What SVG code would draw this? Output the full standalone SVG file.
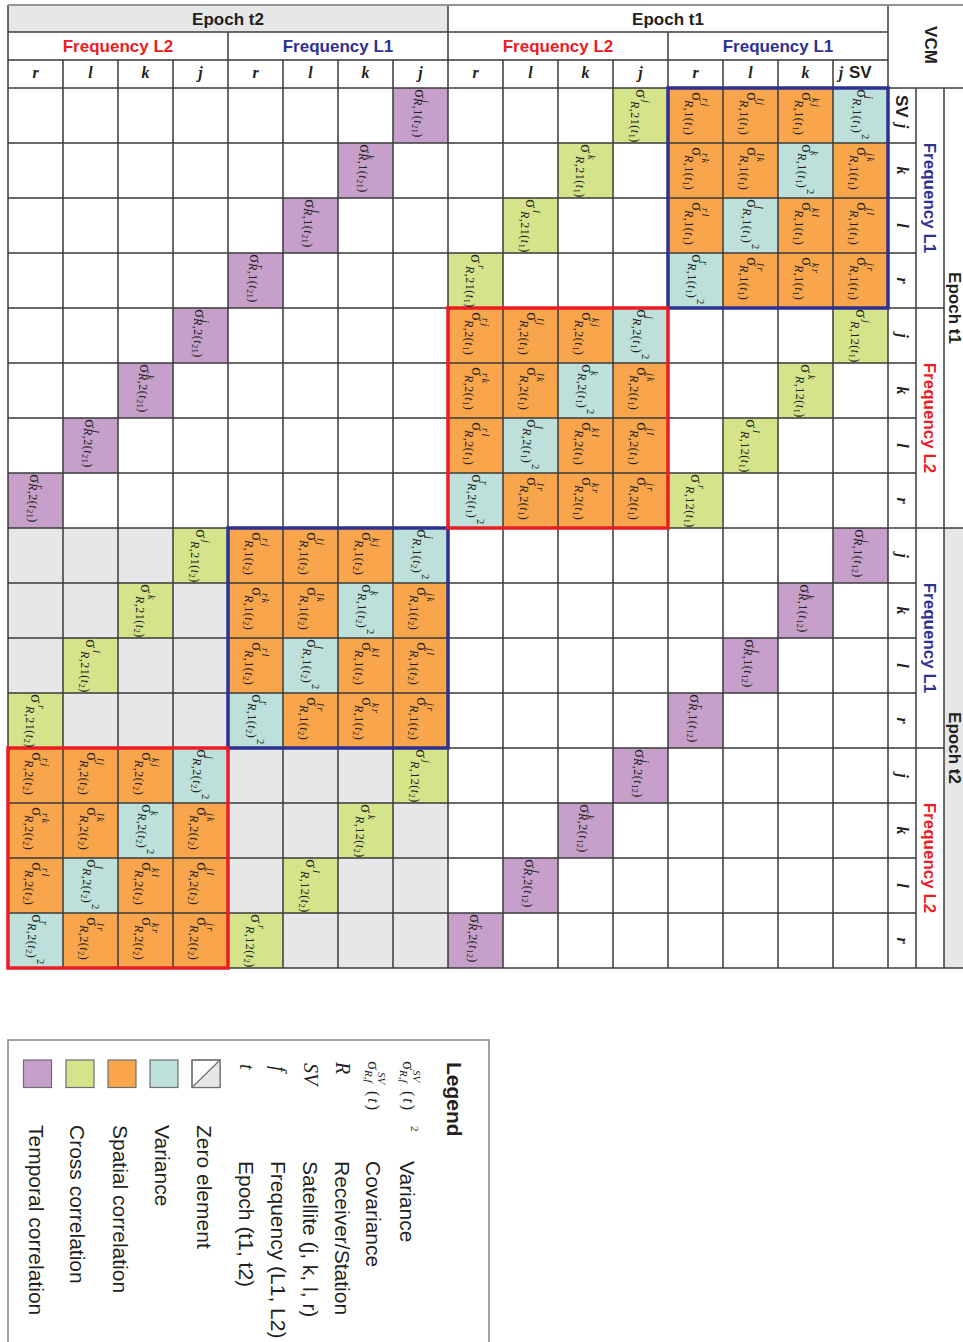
<svg xmlns="http://www.w3.org/2000/svg" width="963" height="1342" viewBox="0 0 963 1342">
<style>
.h{font-family:"Liberation Sans",Arial,sans-serif;font-weight:bold;font-size:17px;fill:#231f20}
.red{fill:#ed1c24}.blu{fill:#2e3192}
.lt{font-family:"Liberation Serif",serif;font-weight:bold;font-style:italic;font-size:16px;fill:#231f20;text-anchor:middle}
.m text{font-family:"Liberation Serif","DejaVu Serif",serif;fill:#231f20}
.sg{font-size:17px}
.sp{font-size:10.5px;font-style:italic;letter-spacing:1.3px}
.l2{font-size:12px;letter-spacing:0.5px}
.i{font-style:italic}
.s{font-size:8px}
.q{font-size:10.5px}
.or{fill:#f9a54b}.cy{fill:#bde0da}.gr{fill:#d5e48a}.pu{fill:#c6a0ca}.gy{fill:#e6e7e8}
.lg{font-family:"Liberation Sans",Arial,sans-serif;font-size:21px;fill:#231f20}
.grid{fill:none;stroke:#3a3a3a;stroke-width:1.5}
.sw{stroke:#6d6e71;stroke-width:1.2}
</style>
<rect width="963" height="1342" fill="#fff"/>
<g id="fills">
<rect class="gy" x="8" y="5" width="440" height="27"/>
<rect class="gy" x="944" y="528" width="19" height="440"/>
<rect class="gy" x="8" y="528" width="440" height="440"/>
<rect class="or" x="668" y="88" width="220" height="220"/>
<rect class="or" x="448" y="308" width="220" height="220"/>
<rect class="or" x="228" y="528" width="220" height="220"/>
<rect class="or" x="8" y="748" width="220" height="220"/>
<g class="cy">
<rect x="833" y="88" width="55" height="55"/><rect x="778" y="143" width="55" height="55"/><rect x="723" y="198" width="55" height="55"/><rect x="668" y="253" width="55" height="55"/>
<rect x="613" y="308" width="55" height="55"/><rect x="558" y="363" width="55" height="55"/><rect x="503" y="418" width="55" height="55"/><rect x="448" y="473" width="55" height="55"/>
<rect x="393" y="528" width="55" height="55"/><rect x="338" y="583" width="55" height="55"/><rect x="283" y="638" width="55" height="55"/><rect x="228" y="693" width="55" height="55"/>
<rect x="173" y="748" width="55" height="55"/><rect x="118" y="803" width="55" height="55"/><rect x="63" y="858" width="55" height="55"/><rect x="8" y="913" width="55" height="55"/>
</g>
<g class="gr">
<rect x="613" y="88" width="55" height="55"/><rect x="558" y="143" width="55" height="55"/><rect x="503" y="198" width="55" height="55"/><rect x="448" y="253" width="55" height="55"/>
<rect x="833" y="308" width="55" height="55"/><rect x="778" y="363" width="55" height="55"/><rect x="723" y="418" width="55" height="55"/><rect x="668" y="473" width="55" height="55"/>
<rect x="173" y="528" width="55" height="55"/><rect x="118" y="583" width="55" height="55"/><rect x="63" y="638" width="55" height="55"/><rect x="8" y="693" width="55" height="55"/>
<rect x="393" y="748" width="55" height="55"/><rect x="338" y="803" width="55" height="55"/><rect x="283" y="858" width="55" height="55"/><rect x="228" y="913" width="55" height="55"/>
</g>
<g class="pu">
<rect x="393" y="88" width="55" height="55"/><rect x="338" y="143" width="55" height="55"/><rect x="283" y="198" width="55" height="55"/><rect x="228" y="253" width="55" height="55"/>
<rect x="173" y="308" width="55" height="55"/><rect x="118" y="363" width="55" height="55"/><rect x="63" y="418" width="55" height="55"/><rect x="8" y="473" width="55" height="55"/>
<rect x="833" y="528" width="55" height="55"/><rect x="778" y="583" width="55" height="55"/><rect x="723" y="638" width="55" height="55"/><rect x="668" y="693" width="55" height="55"/>
<rect x="613" y="748" width="55" height="55"/><rect x="558" y="803" width="55" height="55"/><rect x="503" y="858" width="55" height="55"/><rect x="448" y="913" width="55" height="55"/>
</g>
</g>
<g id="grid">
<path class="grid" d="M8 88H963M8 143H916M8 198H916M8 253H916M8 308H944M8 363H916M8 418H916M8 473H916M8 528H963M8 583H916M8 638H916M8 693H916M8 748H944M8 803H916M8 858H916M8 913H916M8 968H963M8 32H888M8 60H888M8 5V968M63 60V968M118 60V968M173 60V968M228 32V968M283 60V968M338 60V968M393 60V968M448 5V968M503 60V968M558 60V968M613 60V968M668 32V968M723 60V968M778 60V968M833 60V968M888 5V968M916 88V968M944 88V968"/>
<path d="M8 5H963" stroke="#939598" stroke-width="2" fill="none"/>
</g>
<g id="boxes" fill="none" stroke-width="3.5">
<rect x="668" y="88" width="220" height="220" stroke="#2e3192"/>
<rect x="228" y="528" width="220" height="220" stroke="#2e3192"/>
<rect x="448" y="308" width="220" height="220" stroke="#ed1c24"/>
<rect x="8" y="748" width="220" height="220" stroke="#ed1c24"/>
</g>
<g id="headers">
<text class="h" x="228" y="25" text-anchor="middle">Epoch t2</text>
<text class="h" x="668" y="25" text-anchor="middle">Epoch t1</text>
<text class="h red" x="118" y="52" text-anchor="middle">Frequency L2</text>
<text class="h blu" x="338" y="52" text-anchor="middle">Frequency L1</text>
<text class="h red" x="558" y="52" text-anchor="middle">Frequency L2</text>
<text class="h blu" x="778" y="52" text-anchor="middle">Frequency L1</text>
<g class="lt">
<text x="35.5" y="78">r</text><text x="90.5" y="78">l</text><text x="145.5" y="78">k</text><text x="200.5" y="78">j</text>
<text x="255.5" y="78">r</text><text x="310.5" y="78">l</text><text x="365.5" y="78">k</text><text x="420.5" y="78">j</text>
<text x="475.5" y="78">r</text><text x="530.5" y="78">l</text><text x="585.5" y="78">k</text><text x="640.5" y="78">j</text>
<text x="695.5" y="78">r</text><text x="750.5" y="78">l</text><text x="805.5" y="78">k</text><text x="841" y="78">j</text>
</g>
<text class="h" x="849" y="78" font-size="16">SV</text>
<g class="lt">
<text transform="translate(902,170.5) rotate(90)" y="5">k</text>
<text transform="translate(902,225.5) rotate(90)" y="5">l</text>
<text transform="translate(902,280.5) rotate(90)" y="5">r</text>
<text transform="translate(902,335.5) rotate(90)" y="5">j</text>
<text transform="translate(902,390.5) rotate(90)" y="5">k</text>
<text transform="translate(902,445.5) rotate(90)" y="5">l</text>
<text transform="translate(902,500.5) rotate(90)" y="5">r</text>
<text transform="translate(902,555.5) rotate(90)" y="5">j</text>
<text transform="translate(902,610.5) rotate(90)" y="5">k</text>
<text transform="translate(902,665.5) rotate(90)" y="5">l</text>
<text transform="translate(902,720.5) rotate(90)" y="5">r</text>
<text transform="translate(902,775.5) rotate(90)" y="5">j</text>
<text transform="translate(902,830.5) rotate(90)" y="5">k</text>
<text transform="translate(902,885.5) rotate(90)" y="5">l</text>
<text transform="translate(902,940.5) rotate(90)" y="5">r</text>
<text transform="translate(902,126) rotate(90)" y="5">j</text>
</g>
<text class="h" transform="translate(902,95) rotate(90)" y="6" font-size="16">SV</text>
<text class="h blu" transform="translate(930,198) rotate(90)" y="6" text-anchor="middle">Frequency L1</text>
<text class="h red" transform="translate(930,418) rotate(90)" y="6" text-anchor="middle">Frequency L2</text>
<text class="h blu" transform="translate(930,638) rotate(90)" y="6" text-anchor="middle">Frequency L1</text>
<text class="h red" transform="translate(930,858) rotate(90)" y="6" text-anchor="middle">Frequency L2</text>
<text class="h" transform="translate(955,308) rotate(90)" y="6" text-anchor="middle">Epoch t1</text>
<text class="h" transform="translate(955,748) rotate(90)" y="6" text-anchor="middle">Epoch t2</text>
<text class="h" transform="translate(934,45) rotate(90)" y="9" text-anchor="middle" font-size="25">VCM</text>
</g>
<g id="cells" class="m">
<!-- block t1 L1 -->
<g id="c0-12" transform="translate(695.5,88) rotate(90)"><text class="sg" x="4" y="3.5">σ</text><text class="sp" x="10" y="-6">rj</text><text class="l2" x="12" y="10.5"><tspan class="i">R</tspan>,1(<tspan class="i">t</tspan><tspan class="s" dy="2">1</tspan><tspan dy="-2">)</tspan></text></g>
<g id="c0-13" transform="translate(750.5,88) rotate(90)"><text class="sg" x="4" y="3.5">σ</text><text class="sp" x="10" y="-6">lj</text><text class="l2" x="12" y="10.5"><tspan class="i">R</tspan>,1(<tspan class="i">t</tspan><tspan class="s" dy="2">1</tspan><tspan dy="-2">)</tspan></text></g>
<g id="c0-14" transform="translate(805.5,88) rotate(90)"><text class="sg" x="4" y="3.5">σ</text><text class="sp" x="10" y="-6">kj</text><text class="l2" x="12" y="10.5"><tspan class="i">R</tspan>,1(<tspan class="i">t</tspan><tspan class="s" dy="2">1</tspan><tspan dy="-2">)</tspan></text></g>
<g id="c0-15" transform="translate(860.5,88) rotate(90)"><text class="sg" x="1" y="4">σ</text><text class="sp" x="8" y="-5">j</text><text class="l2" x="10" y="8"><tspan class="i">R</tspan>,1(<tspan class="i">t</tspan><tspan class="s" dy="2">1</tspan><tspan dy="-2">)</tspan></text><text class="q" x="46" y="-1">2</text></g>
<g id="c1-12" transform="translate(695.5,143) rotate(90)"><text class="sg" x="4" y="3.5">σ</text><text class="sp" x="10" y="-6">rk</text><text class="l2" x="12" y="10.5"><tspan class="i">R</tspan>,1(<tspan class="i">t</tspan><tspan class="s" dy="2">1</tspan><tspan dy="-2">)</tspan></text></g>
<g id="c1-13" transform="translate(750.5,143) rotate(90)"><text class="sg" x="4" y="3.5">σ</text><text class="sp" x="10" y="-6">lk</text><text class="l2" x="12" y="10.5"><tspan class="i">R</tspan>,1(<tspan class="i">t</tspan><tspan class="s" dy="2">1</tspan><tspan dy="-2">)</tspan></text></g>
<g id="c1-14" transform="translate(805.5,143) rotate(90)"><text class="sg" x="1" y="4">σ</text><text class="sp" x="8" y="-5">k</text><text class="l2" x="10" y="8"><tspan class="i">R</tspan>,1(<tspan class="i">t</tspan><tspan class="s" dy="2">1</tspan><tspan dy="-2">)</tspan></text><text class="q" x="46" y="-1">2</text></g>
<g id="c1-15" transform="translate(860.5,143) rotate(90)"><text class="sg" x="4" y="3.5">σ</text><text class="sp" x="10" y="-6">jk</text><text class="l2" x="12" y="10.5"><tspan class="i">R</tspan>,1(<tspan class="i">t</tspan><tspan class="s" dy="2">1</tspan><tspan dy="-2">)</tspan></text></g>
<g id="c2-12" transform="translate(695.5,198) rotate(90)"><text class="sg" x="4" y="3.5">σ</text><text class="sp" x="10" y="-6">rl</text><text class="l2" x="12" y="10.5"><tspan class="i">R</tspan>,1(<tspan class="i">t</tspan><tspan class="s" dy="2">1</tspan><tspan dy="-2">)</tspan></text></g>
<g id="c2-13" transform="translate(750.5,198) rotate(90)"><text class="sg" x="1" y="4">σ</text><text class="sp" x="8" y="-5">l</text><text class="l2" x="10" y="8"><tspan class="i">R</tspan>,1(<tspan class="i">t</tspan><tspan class="s" dy="2">1</tspan><tspan dy="-2">)</tspan></text><text class="q" x="46" y="-1">2</text></g>
<g id="c2-14" transform="translate(805.5,198) rotate(90)"><text class="sg" x="4" y="3.5">σ</text><text class="sp" x="10" y="-6">kl</text><text class="l2" x="12" y="10.5"><tspan class="i">R</tspan>,1(<tspan class="i">t</tspan><tspan class="s" dy="2">1</tspan><tspan dy="-2">)</tspan></text></g>
<g id="c2-15" transform="translate(860.5,198) rotate(90)"><text class="sg" x="4" y="3.5">σ</text><text class="sp" x="10" y="-6">jl</text><text class="l2" x="12" y="10.5"><tspan class="i">R</tspan>,1(<tspan class="i">t</tspan><tspan class="s" dy="2">1</tspan><tspan dy="-2">)</tspan></text></g>
<g id="c3-12" transform="translate(695.5,253) rotate(90)"><text class="sg" x="1" y="4">σ</text><text class="sp" x="8" y="-5">r</text><text class="l2" x="10" y="8"><tspan class="i">R</tspan>,1(<tspan class="i">t</tspan><tspan class="s" dy="2">1</tspan><tspan dy="-2">)</tspan></text><text class="q" x="46" y="-1">2</text></g>
<g id="c3-13" transform="translate(750.5,253) rotate(90)"><text class="sg" x="4" y="3.5">σ</text><text class="sp" x="10" y="-6">lr</text><text class="l2" x="12" y="10.5"><tspan class="i">R</tspan>,1(<tspan class="i">t</tspan><tspan class="s" dy="2">1</tspan><tspan dy="-2">)</tspan></text></g>
<g id="c3-14" transform="translate(805.5,253) rotate(90)"><text class="sg" x="4" y="3.5">σ</text><text class="sp" x="10" y="-6">kr</text><text class="l2" x="12" y="10.5"><tspan class="i">R</tspan>,1(<tspan class="i">t</tspan><tspan class="s" dy="2">1</tspan><tspan dy="-2">)</tspan></text></g>
<g id="c3-15" transform="translate(860.5,253) rotate(90)"><text class="sg" x="4" y="3.5">σ</text><text class="sp" x="10" y="-6">jr</text><text class="l2" x="12" y="10.5"><tspan class="i">R</tspan>,1(<tspan class="i">t</tspan><tspan class="s" dy="2">1</tspan><tspan dy="-2">)</tspan></text></g>
<!-- block t1 L2 -->
<g id="c4-8" transform="translate(475.5,308) rotate(90)"><text class="sg" x="4" y="3.5">σ</text><text class="sp" x="10" y="-6">rj</text><text class="l2" x="12" y="10.5"><tspan class="i">R</tspan>,2(<tspan class="i">t</tspan><tspan class="s" dy="2">1</tspan><tspan dy="-2">)</tspan></text></g>
<g id="c4-9" transform="translate(530.5,308) rotate(90)"><text class="sg" x="4" y="3.5">σ</text><text class="sp" x="10" y="-6">lj</text><text class="l2" x="12" y="10.5"><tspan class="i">R</tspan>,2(<tspan class="i">t</tspan><tspan class="s" dy="2">1</tspan><tspan dy="-2">)</tspan></text></g>
<g id="c4-10" transform="translate(585.5,308) rotate(90)"><text class="sg" x="4" y="3.5">σ</text><text class="sp" x="10" y="-6">kj</text><text class="l2" x="12" y="10.5"><tspan class="i">R</tspan>,2(<tspan class="i">t</tspan><tspan class="s" dy="2">1</tspan><tspan dy="-2">)</tspan></text></g>
<g id="c4-11" transform="translate(640.5,308) rotate(90)"><text class="sg" x="1" y="4">σ</text><text class="sp" x="8" y="-5">j</text><text class="l2" x="10" y="8"><tspan class="i">R</tspan>,2(<tspan class="i">t</tspan><tspan class="s" dy="2">1</tspan><tspan dy="-2">)</tspan></text><text class="q" x="46" y="-1">2</text></g>
<g id="c5-8" transform="translate(475.5,363) rotate(90)"><text class="sg" x="4" y="3.5">σ</text><text class="sp" x="10" y="-6">rk</text><text class="l2" x="12" y="10.5"><tspan class="i">R</tspan>,2(<tspan class="i">t</tspan><tspan class="s" dy="2">1</tspan><tspan dy="-2">)</tspan></text></g>
<g id="c5-9" transform="translate(530.5,363) rotate(90)"><text class="sg" x="4" y="3.5">σ</text><text class="sp" x="10" y="-6">lk</text><text class="l2" x="12" y="10.5"><tspan class="i">R</tspan>,2(<tspan class="i">t</tspan><tspan class="s" dy="2">1</tspan><tspan dy="-2">)</tspan></text></g>
<g id="c5-10" transform="translate(585.5,363) rotate(90)"><text class="sg" x="1" y="4">σ</text><text class="sp" x="8" y="-5">k</text><text class="l2" x="10" y="8"><tspan class="i">R</tspan>,2(<tspan class="i">t</tspan><tspan class="s" dy="2">1</tspan><tspan dy="-2">)</tspan></text><text class="q" x="46" y="-1">2</text></g>
<g id="c5-11" transform="translate(640.5,363) rotate(90)"><text class="sg" x="4" y="3.5">σ</text><text class="sp" x="10" y="-6">jk</text><text class="l2" x="12" y="10.5"><tspan class="i">R</tspan>,2(<tspan class="i">t</tspan><tspan class="s" dy="2">1</tspan><tspan dy="-2">)</tspan></text></g>
<g id="c6-8" transform="translate(475.5,418) rotate(90)"><text class="sg" x="4" y="3.5">σ</text><text class="sp" x="10" y="-6">rl</text><text class="l2" x="12" y="10.5"><tspan class="i">R</tspan>,2(<tspan class="i">t</tspan><tspan class="s" dy="2">1</tspan><tspan dy="-2">)</tspan></text></g>
<g id="c6-9" transform="translate(530.5,418) rotate(90)"><text class="sg" x="1" y="4">σ</text><text class="sp" x="8" y="-5">l</text><text class="l2" x="10" y="8"><tspan class="i">R</tspan>,2(<tspan class="i">t</tspan><tspan class="s" dy="2">1</tspan><tspan dy="-2">)</tspan></text><text class="q" x="46" y="-1">2</text></g>
<g id="c6-10" transform="translate(585.5,418) rotate(90)"><text class="sg" x="4" y="3.5">σ</text><text class="sp" x="10" y="-6">kl</text><text class="l2" x="12" y="10.5"><tspan class="i">R</tspan>,2(<tspan class="i">t</tspan><tspan class="s" dy="2">1</tspan><tspan dy="-2">)</tspan></text></g>
<g id="c6-11" transform="translate(640.5,418) rotate(90)"><text class="sg" x="4" y="3.5">σ</text><text class="sp" x="10" y="-6">jl</text><text class="l2" x="12" y="10.5"><tspan class="i">R</tspan>,2(<tspan class="i">t</tspan><tspan class="s" dy="2">1</tspan><tspan dy="-2">)</tspan></text></g>
<g id="c7-8" transform="translate(475.5,473) rotate(90)"><text class="sg" x="1" y="4">σ</text><text class="sp" x="8" y="-5">r</text><text class="l2" x="10" y="8"><tspan class="i">R</tspan>,2(<tspan class="i">t</tspan><tspan class="s" dy="2">1</tspan><tspan dy="-2">)</tspan></text><text class="q" x="46" y="-1">2</text></g>
<g id="c7-9" transform="translate(530.5,473) rotate(90)"><text class="sg" x="4" y="3.5">σ</text><text class="sp" x="10" y="-6">lr</text><text class="l2" x="12" y="10.5"><tspan class="i">R</tspan>,2(<tspan class="i">t</tspan><tspan class="s" dy="2">1</tspan><tspan dy="-2">)</tspan></text></g>
<g id="c7-10" transform="translate(585.5,473) rotate(90)"><text class="sg" x="4" y="3.5">σ</text><text class="sp" x="10" y="-6">kr</text><text class="l2" x="12" y="10.5"><tspan class="i">R</tspan>,2(<tspan class="i">t</tspan><tspan class="s" dy="2">1</tspan><tspan dy="-2">)</tspan></text></g>
<g id="c7-11" transform="translate(640.5,473) rotate(90)"><text class="sg" x="4" y="3.5">σ</text><text class="sp" x="10" y="-6">jr</text><text class="l2" x="12" y="10.5"><tspan class="i">R</tspan>,2(<tspan class="i">t</tspan><tspan class="s" dy="2">1</tspan><tspan dy="-2">)</tspan></text></g>
<!-- block t2 L1 -->
<g id="c8-4" transform="translate(255.5,528) rotate(90)"><text class="sg" x="4" y="3.5">σ</text><text class="sp" x="10" y="-6">rj</text><text class="l2" x="12" y="10.5"><tspan class="i">R</tspan>,1(<tspan class="i">t</tspan><tspan class="s" dy="2">2</tspan><tspan dy="-2">)</tspan></text></g>
<g id="c8-5" transform="translate(310.5,528) rotate(90)"><text class="sg" x="4" y="3.5">σ</text><text class="sp" x="10" y="-6">lj</text><text class="l2" x="12" y="10.5"><tspan class="i">R</tspan>,1(<tspan class="i">t</tspan><tspan class="s" dy="2">2</tspan><tspan dy="-2">)</tspan></text></g>
<g id="c8-6" transform="translate(365.5,528) rotate(90)"><text class="sg" x="4" y="3.5">σ</text><text class="sp" x="10" y="-6">kj</text><text class="l2" x="12" y="10.5"><tspan class="i">R</tspan>,1(<tspan class="i">t</tspan><tspan class="s" dy="2">2</tspan><tspan dy="-2">)</tspan></text></g>
<g id="c8-7" transform="translate(420.5,528) rotate(90)"><text class="sg" x="1" y="4">σ</text><text class="sp" x="8" y="-5">j</text><text class="l2" x="10" y="8"><tspan class="i">R</tspan>,1(<tspan class="i">t</tspan><tspan class="s" dy="2">2</tspan><tspan dy="-2">)</tspan></text><text class="q" x="46" y="-1">2</text></g>
<g id="c9-4" transform="translate(255.5,583) rotate(90)"><text class="sg" x="4" y="3.5">σ</text><text class="sp" x="10" y="-6">rk</text><text class="l2" x="12" y="10.5"><tspan class="i">R</tspan>,1(<tspan class="i">t</tspan><tspan class="s" dy="2">2</tspan><tspan dy="-2">)</tspan></text></g>
<g id="c9-5" transform="translate(310.5,583) rotate(90)"><text class="sg" x="4" y="3.5">σ</text><text class="sp" x="10" y="-6">lk</text><text class="l2" x="12" y="10.5"><tspan class="i">R</tspan>,1(<tspan class="i">t</tspan><tspan class="s" dy="2">2</tspan><tspan dy="-2">)</tspan></text></g>
<g id="c9-6" transform="translate(365.5,583) rotate(90)"><text class="sg" x="1" y="4">σ</text><text class="sp" x="8" y="-5">k</text><text class="l2" x="10" y="8"><tspan class="i">R</tspan>,1(<tspan class="i">t</tspan><tspan class="s" dy="2">2</tspan><tspan dy="-2">)</tspan></text><text class="q" x="46" y="-1">2</text></g>
<g id="c9-7" transform="translate(420.5,583) rotate(90)"><text class="sg" x="4" y="3.5">σ</text><text class="sp" x="10" y="-6">jk</text><text class="l2" x="12" y="10.5"><tspan class="i">R</tspan>,1(<tspan class="i">t</tspan><tspan class="s" dy="2">2</tspan><tspan dy="-2">)</tspan></text></g>
<g id="c10-4" transform="translate(255.5,638) rotate(90)"><text class="sg" x="4" y="3.5">σ</text><text class="sp" x="10" y="-6">rl</text><text class="l2" x="12" y="10.5"><tspan class="i">R</tspan>,1(<tspan class="i">t</tspan><tspan class="s" dy="2">2</tspan><tspan dy="-2">)</tspan></text></g>
<g id="c10-5" transform="translate(310.5,638) rotate(90)"><text class="sg" x="1" y="4">σ</text><text class="sp" x="8" y="-5">l</text><text class="l2" x="10" y="8"><tspan class="i">R</tspan>,1(<tspan class="i">t</tspan><tspan class="s" dy="2">2</tspan><tspan dy="-2">)</tspan></text><text class="q" x="46" y="-1">2</text></g>
<g id="c10-6" transform="translate(365.5,638) rotate(90)"><text class="sg" x="4" y="3.5">σ</text><text class="sp" x="10" y="-6">kl</text><text class="l2" x="12" y="10.5"><tspan class="i">R</tspan>,1(<tspan class="i">t</tspan><tspan class="s" dy="2">2</tspan><tspan dy="-2">)</tspan></text></g>
<g id="c10-7" transform="translate(420.5,638) rotate(90)"><text class="sg" x="4" y="3.5">σ</text><text class="sp" x="10" y="-6">jl</text><text class="l2" x="12" y="10.5"><tspan class="i">R</tspan>,1(<tspan class="i">t</tspan><tspan class="s" dy="2">2</tspan><tspan dy="-2">)</tspan></text></g>
<g id="c11-4" transform="translate(255.5,693) rotate(90)"><text class="sg" x="1" y="4">σ</text><text class="sp" x="8" y="-5">r</text><text class="l2" x="10" y="8"><tspan class="i">R</tspan>,1(<tspan class="i">t</tspan><tspan class="s" dy="2">2</tspan><tspan dy="-2">)</tspan></text><text class="q" x="46" y="-1">2</text></g>
<g id="c11-5" transform="translate(310.5,693) rotate(90)"><text class="sg" x="4" y="3.5">σ</text><text class="sp" x="10" y="-6">lr</text><text class="l2" x="12" y="10.5"><tspan class="i">R</tspan>,1(<tspan class="i">t</tspan><tspan class="s" dy="2">2</tspan><tspan dy="-2">)</tspan></text></g>
<g id="c11-6" transform="translate(365.5,693) rotate(90)"><text class="sg" x="4" y="3.5">σ</text><text class="sp" x="10" y="-6">kr</text><text class="l2" x="12" y="10.5"><tspan class="i">R</tspan>,1(<tspan class="i">t</tspan><tspan class="s" dy="2">2</tspan><tspan dy="-2">)</tspan></text></g>
<g id="c11-7" transform="translate(420.5,693) rotate(90)"><text class="sg" x="4" y="3.5">σ</text><text class="sp" x="10" y="-6">jr</text><text class="l2" x="12" y="10.5"><tspan class="i">R</tspan>,1(<tspan class="i">t</tspan><tspan class="s" dy="2">2</tspan><tspan dy="-2">)</tspan></text></g>
<!-- block t2 L2 -->
<g id="c12-0" transform="translate(35.5,748) rotate(90)"><text class="sg" x="4" y="3.5">σ</text><text class="sp" x="10" y="-6">rj</text><text class="l2" x="12" y="10.5"><tspan class="i">R</tspan>,2(<tspan class="i">t</tspan><tspan class="s" dy="2">2</tspan><tspan dy="-2">)</tspan></text></g>
<g id="c12-1" transform="translate(90.5,748) rotate(90)"><text class="sg" x="4" y="3.5">σ</text><text class="sp" x="10" y="-6">lj</text><text class="l2" x="12" y="10.5"><tspan class="i">R</tspan>,2(<tspan class="i">t</tspan><tspan class="s" dy="2">2</tspan><tspan dy="-2">)</tspan></text></g>
<g id="c12-2" transform="translate(145.5,748) rotate(90)"><text class="sg" x="4" y="3.5">σ</text><text class="sp" x="10" y="-6">kj</text><text class="l2" x="12" y="10.5"><tspan class="i">R</tspan>,2(<tspan class="i">t</tspan><tspan class="s" dy="2">2</tspan><tspan dy="-2">)</tspan></text></g>
<g id="c12-3" transform="translate(200.5,748) rotate(90)"><text class="sg" x="1" y="4">σ</text><text class="sp" x="8" y="-5">j</text><text class="l2" x="10" y="8"><tspan class="i">R</tspan>,2(<tspan class="i">t</tspan><tspan class="s" dy="2">2</tspan><tspan dy="-2">)</tspan></text><text class="q" x="46" y="-1">2</text></g>
<g id="c13-0" transform="translate(35.5,803) rotate(90)"><text class="sg" x="4" y="3.5">σ</text><text class="sp" x="10" y="-6">rk</text><text class="l2" x="12" y="10.5"><tspan class="i">R</tspan>,2(<tspan class="i">t</tspan><tspan class="s" dy="2">2</tspan><tspan dy="-2">)</tspan></text></g>
<g id="c13-1" transform="translate(90.5,803) rotate(90)"><text class="sg" x="4" y="3.5">σ</text><text class="sp" x="10" y="-6">lk</text><text class="l2" x="12" y="10.5"><tspan class="i">R</tspan>,2(<tspan class="i">t</tspan><tspan class="s" dy="2">2</tspan><tspan dy="-2">)</tspan></text></g>
<g id="c13-2" transform="translate(145.5,803) rotate(90)"><text class="sg" x="1" y="4">σ</text><text class="sp" x="8" y="-5">k</text><text class="l2" x="10" y="8"><tspan class="i">R</tspan>,2(<tspan class="i">t</tspan><tspan class="s" dy="2">2</tspan><tspan dy="-2">)</tspan></text><text class="q" x="46" y="-1">2</text></g>
<g id="c13-3" transform="translate(200.5,803) rotate(90)"><text class="sg" x="4" y="3.5">σ</text><text class="sp" x="10" y="-6">jk</text><text class="l2" x="12" y="10.5"><tspan class="i">R</tspan>,2(<tspan class="i">t</tspan><tspan class="s" dy="2">2</tspan><tspan dy="-2">)</tspan></text></g>
<g id="c14-0" transform="translate(35.5,858) rotate(90)"><text class="sg" x="4" y="3.5">σ</text><text class="sp" x="10" y="-6">rl</text><text class="l2" x="12" y="10.5"><tspan class="i">R</tspan>,2(<tspan class="i">t</tspan><tspan class="s" dy="2">2</tspan><tspan dy="-2">)</tspan></text></g>
<g id="c14-1" transform="translate(90.5,858) rotate(90)"><text class="sg" x="1" y="4">σ</text><text class="sp" x="8" y="-5">l</text><text class="l2" x="10" y="8"><tspan class="i">R</tspan>,2(<tspan class="i">t</tspan><tspan class="s" dy="2">2</tspan><tspan dy="-2">)</tspan></text><text class="q" x="46" y="-1">2</text></g>
<g id="c14-2" transform="translate(145.5,858) rotate(90)"><text class="sg" x="4" y="3.5">σ</text><text class="sp" x="10" y="-6">kl</text><text class="l2" x="12" y="10.5"><tspan class="i">R</tspan>,2(<tspan class="i">t</tspan><tspan class="s" dy="2">2</tspan><tspan dy="-2">)</tspan></text></g>
<g id="c14-3" transform="translate(200.5,858) rotate(90)"><text class="sg" x="4" y="3.5">σ</text><text class="sp" x="10" y="-6">jl</text><text class="l2" x="12" y="10.5"><tspan class="i">R</tspan>,2(<tspan class="i">t</tspan><tspan class="s" dy="2">2</tspan><tspan dy="-2">)</tspan></text></g>
<g id="c15-0" transform="translate(35.5,913) rotate(90)"><text class="sg" x="1" y="4">σ</text><text class="sp" x="8" y="-5">r</text><text class="l2" x="10" y="8"><tspan class="i">R</tspan>,2(<tspan class="i">t</tspan><tspan class="s" dy="2">2</tspan><tspan dy="-2">)</tspan></text><text class="q" x="46" y="-1">2</text></g>
<g id="c15-1" transform="translate(90.5,913) rotate(90)"><text class="sg" x="4" y="3.5">σ</text><text class="sp" x="10" y="-6">lr</text><text class="l2" x="12" y="10.5"><tspan class="i">R</tspan>,2(<tspan class="i">t</tspan><tspan class="s" dy="2">2</tspan><tspan dy="-2">)</tspan></text></g>
<g id="c15-2" transform="translate(145.5,913) rotate(90)"><text class="sg" x="4" y="3.5">σ</text><text class="sp" x="10" y="-6">kr</text><text class="l2" x="12" y="10.5"><tspan class="i">R</tspan>,2(<tspan class="i">t</tspan><tspan class="s" dy="2">2</tspan><tspan dy="-2">)</tspan></text></g>
<g id="c15-3" transform="translate(200.5,913) rotate(90)"><text class="sg" x="4" y="3.5">σ</text><text class="sp" x="10" y="-6">jr</text><text class="l2" x="12" y="10.5"><tspan class="i">R</tspan>,2(<tspan class="i">t</tspan><tspan class="s" dy="2">2</tspan><tspan dy="-2">)</tspan></text></g>
<!-- cross correlation -->
<g id="g0" transform="translate(640.5,88) rotate(90)"><text class="sg" x="1" y="5">σ</text><text class="sp" x="12" y="-2.5">j</text><text class="l2" x="13" y="9.5"><tspan class="i">R</tspan>,21(<tspan class="i">t</tspan><tspan class="s" dy="2">1</tspan><tspan dy="-2">)</tspan></text></g>
<g id="g1" transform="translate(585.5,143) rotate(90)"><text class="sg" x="1" y="5">σ</text><text class="sp" x="12" y="-2.5">k</text><text class="l2" x="13" y="9.5"><tspan class="i">R</tspan>,21(<tspan class="i">t</tspan><tspan class="s" dy="2">1</tspan><tspan dy="-2">)</tspan></text></g>
<g id="g2" transform="translate(530.5,198) rotate(90)"><text class="sg" x="1" y="5">σ</text><text class="sp" x="12" y="-2.5">l</text><text class="l2" x="13" y="9.5"><tspan class="i">R</tspan>,21(<tspan class="i">t</tspan><tspan class="s" dy="2">1</tspan><tspan dy="-2">)</tspan></text></g>
<g id="g3" transform="translate(475.5,253) rotate(90)"><text class="sg" x="1" y="5">σ</text><text class="sp" x="12" y="-2.5">r</text><text class="l2" x="13" y="9.5"><tspan class="i">R</tspan>,21(<tspan class="i">t</tspan><tspan class="s" dy="2">1</tspan><tspan dy="-2">)</tspan></text></g>
<g id="g4" transform="translate(860.5,308) rotate(90)"><text class="sg" x="1" y="5">σ</text><text class="sp" x="12" y="-2.5">j</text><text class="l2" x="13" y="9.5"><tspan class="i">R</tspan>,12(<tspan class="i">t</tspan><tspan class="s" dy="2">1</tspan><tspan dy="-2">)</tspan></text></g>
<g id="g5" transform="translate(805.5,363) rotate(90)"><text class="sg" x="1" y="5">σ</text><text class="sp" x="12" y="-2.5">k</text><text class="l2" x="13" y="9.5"><tspan class="i">R</tspan>,12(<tspan class="i">t</tspan><tspan class="s" dy="2">1</tspan><tspan dy="-2">)</tspan></text></g>
<g id="g6" transform="translate(750.5,418) rotate(90)"><text class="sg" x="1" y="5">σ</text><text class="sp" x="12" y="-2.5">l</text><text class="l2" x="13" y="9.5"><tspan class="i">R</tspan>,12(<tspan class="i">t</tspan><tspan class="s" dy="2">1</tspan><tspan dy="-2">)</tspan></text></g>
<g id="g7" transform="translate(695.5,473) rotate(90)"><text class="sg" x="1" y="5">σ</text><text class="sp" x="12" y="-2.5">r</text><text class="l2" x="13" y="9.5"><tspan class="i">R</tspan>,12(<tspan class="i">t</tspan><tspan class="s" dy="2">1</tspan><tspan dy="-2">)</tspan></text></g>
<g id="g8" transform="translate(200.5,528) rotate(90)"><text class="sg" x="1" y="5">σ</text><text class="sp" x="12" y="-2.5">j</text><text class="l2" x="13" y="9.5"><tspan class="i">R</tspan>,21(<tspan class="i">t</tspan><tspan class="s" dy="2">2</tspan><tspan dy="-2">)</tspan></text></g>
<g id="g9" transform="translate(145.5,583) rotate(90)"><text class="sg" x="1" y="5">σ</text><text class="sp" x="12" y="-2.5">k</text><text class="l2" x="13" y="9.5"><tspan class="i">R</tspan>,21(<tspan class="i">t</tspan><tspan class="s" dy="2">2</tspan><tspan dy="-2">)</tspan></text></g>
<g id="g10" transform="translate(90.5,638) rotate(90)"><text class="sg" x="1" y="5">σ</text><text class="sp" x="12" y="-2.5">l</text><text class="l2" x="13" y="9.5"><tspan class="i">R</tspan>,21(<tspan class="i">t</tspan><tspan class="s" dy="2">2</tspan><tspan dy="-2">)</tspan></text></g>
<g id="g11" transform="translate(35.5,693) rotate(90)"><text class="sg" x="1" y="5">σ</text><text class="sp" x="12" y="-2.5">r</text><text class="l2" x="13" y="9.5"><tspan class="i">R</tspan>,21(<tspan class="i">t</tspan><tspan class="s" dy="2">2</tspan><tspan dy="-2">)</tspan></text></g>
<g id="g12" transform="translate(420.5,748) rotate(90)"><text class="sg" x="1" y="5">σ</text><text class="sp" x="12" y="-2.5">j</text><text class="l2" x="13" y="9.5"><tspan class="i">R</tspan>,12(<tspan class="i">t</tspan><tspan class="s" dy="2">2</tspan><tspan dy="-2">)</tspan></text></g>
<g id="g13" transform="translate(365.5,803) rotate(90)"><text class="sg" x="1" y="5">σ</text><text class="sp" x="12" y="-2.5">k</text><text class="l2" x="13" y="9.5"><tspan class="i">R</tspan>,12(<tspan class="i">t</tspan><tspan class="s" dy="2">2</tspan><tspan dy="-2">)</tspan></text></g>
<g id="g14" transform="translate(310.5,858) rotate(90)"><text class="sg" x="1" y="5">σ</text><text class="sp" x="12" y="-2.5">l</text><text class="l2" x="13" y="9.5"><tspan class="i">R</tspan>,12(<tspan class="i">t</tspan><tspan class="s" dy="2">2</tspan><tspan dy="-2">)</tspan></text></g>
<g id="g15" transform="translate(255.5,913) rotate(90)"><text class="sg" x="1" y="5">σ</text><text class="sp" x="12" y="-2.5">r</text><text class="l2" x="13" y="9.5"><tspan class="i">R</tspan>,12(<tspan class="i">t</tspan><tspan class="s" dy="2">2</tspan><tspan dy="-2">)</tspan></text></g>
<!-- temporal correlation -->
<g id="p0" transform="translate(420.5,88) rotate(90)"><text class="sg" x="1" y="5.5">σ</text><text class="sp" x="12" y="-1">j</text><text class="l2" x="10" y="7"><tspan class="i">R</tspan>,1(<tspan class="i">t</tspan><tspan class="s" dy="2">21</tspan><tspan dy="-2">)</tspan></text></g>
<g id="p1" transform="translate(365.5,143) rotate(90)"><text class="sg" x="1" y="5.5">σ</text><text class="sp" x="12" y="-1">k</text><text class="l2" x="10" y="7"><tspan class="i">R</tspan>,1(<tspan class="i">t</tspan><tspan class="s" dy="2">21</tspan><tspan dy="-2">)</tspan></text></g>
<g id="p2" transform="translate(310.5,198) rotate(90)"><text class="sg" x="1" y="5.5">σ</text><text class="sp" x="12" y="-1">l</text><text class="l2" x="10" y="7"><tspan class="i">R</tspan>,1(<tspan class="i">t</tspan><tspan class="s" dy="2">21</tspan><tspan dy="-2">)</tspan></text></g>
<g id="p3" transform="translate(255.5,253) rotate(90)"><text class="sg" x="1" y="5.5">σ</text><text class="sp" x="12" y="-1">r</text><text class="l2" x="10" y="7"><tspan class="i">R</tspan>,1(<tspan class="i">t</tspan><tspan class="s" dy="2">21</tspan><tspan dy="-2">)</tspan></text></g>
<g id="p4" transform="translate(200.5,308) rotate(90)"><text class="sg" x="1" y="5.5">σ</text><text class="sp" x="12" y="-1">j</text><text class="l2" x="10" y="7"><tspan class="i">R</tspan>,2(<tspan class="i">t</tspan><tspan class="s" dy="2">21</tspan><tspan dy="-2">)</tspan></text></g>
<g id="p5" transform="translate(145.5,363) rotate(90)"><text class="sg" x="1" y="5.5">σ</text><text class="sp" x="12" y="-1">k</text><text class="l2" x="10" y="7"><tspan class="i">R</tspan>,2(<tspan class="i">t</tspan><tspan class="s" dy="2">21</tspan><tspan dy="-2">)</tspan></text></g>
<g id="p6" transform="translate(90.5,418) rotate(90)"><text class="sg" x="1" y="5.5">σ</text><text class="sp" x="12" y="-1">l</text><text class="l2" x="10" y="7"><tspan class="i">R</tspan>,2(<tspan class="i">t</tspan><tspan class="s" dy="2">21</tspan><tspan dy="-2">)</tspan></text></g>
<g id="p7" transform="translate(35.5,473) rotate(90)"><text class="sg" x="1" y="5.5">σ</text><text class="sp" x="12" y="-1">r</text><text class="l2" x="10" y="7"><tspan class="i">R</tspan>,2(<tspan class="i">t</tspan><tspan class="s" dy="2">21</tspan><tspan dy="-2">)</tspan></text></g>
<g id="p8" transform="translate(860.5,528) rotate(90)"><text class="sg" x="1" y="5.5">σ</text><text class="sp" x="12" y="-1">j</text><text class="l2" x="10" y="7"><tspan class="i">R</tspan>,1(<tspan class="i">t</tspan><tspan class="s" dy="2">12</tspan><tspan dy="-2">)</tspan></text></g>
<g id="p9" transform="translate(805.5,583) rotate(90)"><text class="sg" x="1" y="5.5">σ</text><text class="sp" x="12" y="-1">k</text><text class="l2" x="10" y="7"><tspan class="i">R</tspan>,1(<tspan class="i">t</tspan><tspan class="s" dy="2">12</tspan><tspan dy="-2">)</tspan></text></g>
<g id="p10" transform="translate(750.5,638) rotate(90)"><text class="sg" x="1" y="5.5">σ</text><text class="sp" x="12" y="-1">l</text><text class="l2" x="10" y="7"><tspan class="i">R</tspan>,1(<tspan class="i">t</tspan><tspan class="s" dy="2">12</tspan><tspan dy="-2">)</tspan></text></g>
<g id="p11" transform="translate(695.5,693) rotate(90)"><text class="sg" x="1" y="5.5">σ</text><text class="sp" x="12" y="-1">r</text><text class="l2" x="10" y="7"><tspan class="i">R</tspan>,1(<tspan class="i">t</tspan><tspan class="s" dy="2">12</tspan><tspan dy="-2">)</tspan></text></g>
<g id="p12" transform="translate(640.5,748) rotate(90)"><text class="sg" x="1" y="5.5">σ</text><text class="sp" x="12" y="-1">j</text><text class="l2" x="10" y="7"><tspan class="i">R</tspan>,2(<tspan class="i">t</tspan><tspan class="s" dy="2">12</tspan><tspan dy="-2">)</tspan></text></g>
<g id="p13" transform="translate(585.5,803) rotate(90)"><text class="sg" x="1" y="5.5">σ</text><text class="sp" x="12" y="-1">k</text><text class="l2" x="10" y="7"><tspan class="i">R</tspan>,2(<tspan class="i">t</tspan><tspan class="s" dy="2">12</tspan><tspan dy="-2">)</tspan></text></g>
<g id="p14" transform="translate(530.5,858) rotate(90)"><text class="sg" x="1" y="5.5">σ</text><text class="sp" x="12" y="-1">l</text><text class="l2" x="10" y="7"><tspan class="i">R</tspan>,2(<tspan class="i">t</tspan><tspan class="s" dy="2">12</tspan><tspan dy="-2">)</tspan></text></g>
<g id="p15" transform="translate(475.5,913) rotate(90)"><text class="sg" x="1" y="5.5">σ</text><text class="sp" x="12" y="-1">r</text><text class="l2" x="10" y="7"><tspan class="i">R</tspan>,2(<tspan class="i">t</tspan><tspan class="s" dy="2">12</tspan><tspan dy="-2">)</tspan></text></g>
</g>
<g id="legend">
<rect x="8" y="1040" width="481" height="320" fill="none" stroke="#808285" stroke-width="1.5"/>
<text class="lg" font-weight="bold" font-size="23" transform="translate(446.5,1062) rotate(90)">Legend</text>
<g class="m">
<g transform="translate(403,1061) rotate(90)"><text font-size="17">σ</text><text font-size="11" class="i" x="9" y="-10">SV</text><text font-size="11" class="i" x="9" y="3">R,f</text><text font-size="16" x="30" y="0" letter-spacing="2">(<tspan class="i">t</tspan>)</text><text font-size="11" x="65" y="-8">2</text></g>
<g transform="translate(368,1061) rotate(90)"><text font-size="17">σ</text><text font-size="11" class="i" x="11" y="-10">SV</text><text font-size="11" class="i" x="9" y="3">R,f</text><text font-size="16" x="30" y="0" letter-spacing="2">(<tspan class="i">t</tspan>)</text></g>
<text class="i" font-size="20" transform="translate(336,1062) rotate(90)">R</text>
<text class="i" font-size="20" transform="translate(304,1063) rotate(90)">SV</text>
<text class="i" font-size="20" transform="translate(272,1066) rotate(90)">f</text>
<text class="i" font-size="20" transform="translate(240,1064) rotate(90)">t</text>
</g>
<g class="lg">
<text transform="translate(399.5,1161) rotate(90)">Variance</text>
<text transform="translate(365.5,1161) rotate(90)">Covariance</text>
<text transform="translate(335,1161) rotate(90)">Receiver/Station</text>
<text transform="translate(303,1161) rotate(90)">Satellite (j, k, l, r)</text>
<text transform="translate(270.5,1161) rotate(90)">Frequency (L1, L2)</text>
<text transform="translate(239,1161) rotate(90)">Epoch (t1, t2)</text>
<text transform="translate(197,1125) rotate(90)">Zero element</text>
<text transform="translate(155,1125) rotate(90)">Variance</text>
<text transform="translate(113,1125) rotate(90)">Spatial correlation</text>
<text transform="translate(70,1125) rotate(90)">Cross correlation</text>
<text transform="translate(29,1125) rotate(90)">Temporal correlation</text>
</g>
<rect x="192" y="1060" width="28" height="27.5" fill="#fff" class="sw"/>
<path d="M220 1060V1087.5H192Z" class="gy"/>
<path d="M192 1087.5L220 1060" class="sw" fill="none"/>
<rect x="192" y="1060" width="28" height="27.5" fill="none" class="sw"/>
<rect x="150" y="1060" width="28" height="27.5" class="cy sw"/>
<rect x="108" y="1060" width="28" height="27.5" class="or sw"/>
<rect x="66" y="1060" width="28" height="27.5" class="gr sw"/>
<rect x="23.5" y="1060" width="28" height="27.5" class="pu sw"/>
</g>
</svg>
